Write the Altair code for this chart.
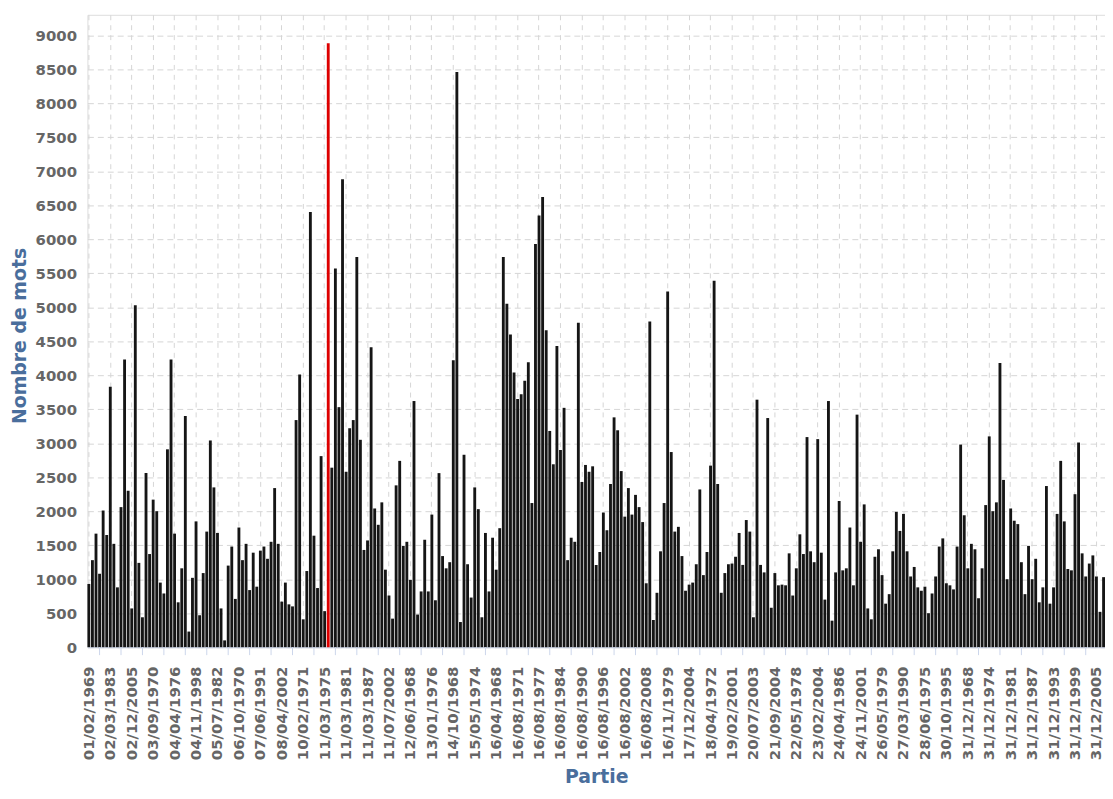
import altair as alt
import pandas as pd

# Nombre de mots par partie (lecture approximative du graphique)
valeurs = [
    930, 1280, 1670, 1080, 2010, 1650, 3830, 1520, 880, 2060,
    4230, 2300, 570, 5030, 1240, 440, 2560, 1370, 2170, 2000,
    950, 790, 2910, 4230, 1670, 660, 1160, 3400, 230, 1020,
    1850, 470, 1090, 1700, 3040, 2350, 1680, 570, 100, 1200,
    1480, 710, 1760, 1280, 1520, 840, 1390, 890, 1420, 1480,
    1300, 1550, 2340, 1520, 670, 950, 630, 600, 3340, 4010,
    410, 1120, 6400, 1640, 870, 2810, 530, 8880, 2640, 5570,
    3530, 6880, 2580, 3220, 3340, 5740, 3050, 1430, 1570, 4410,
    2040, 1800, 2130, 1140, 760, 420, 2380, 2740, 1490, 1550,
    990, 3620, 480, 820, 1580, 820, 1950, 690, 2560, 1340,
    1160, 1250, 4220, 8460, 370, 2830, 1220, 730, 2350, 2030,
    440, 1680, 820, 1610, 1140, 1750, 5740, 5050, 4600, 4040,
    3650, 3720, 3920, 4190, 2120, 5930, 6350, 6620, 4660, 3180,
    2690, 4430, 2900, 3520, 1280, 1610, 1550, 4770, 2430, 2680,
    2580, 2660, 1210, 1400, 1980, 1720, 2400, 3380, 3190, 2590,
    1920, 2340, 1950, 2240, 2060, 1840, 940, 4790, 400, 800,
    1410, 2120, 5230, 2870, 1700, 1770, 1340, 830, 920, 950,
    1220, 2320, 1060, 1400, 2670, 5390, 2400, 800, 1090, 1220,
    1230, 1330, 1680, 1210, 1870, 1700, 440, 3640, 1210, 1100,
    3370, 580, 1090, 910, 920, 910, 1380, 760, 1160, 1660,
    1370, 3090, 1410, 1250, 3060, 1390, 700, 3620, 390, 1100,
    2150, 1130, 1160, 1760, 910, 3420, 1550, 2100, 570, 410,
    1330, 1440, 1060, 640, 780, 1410, 1990, 1710, 1960, 1410,
    1040, 1180, 880, 830, 890, 500, 790, 1040, 1480, 1600,
    940, 910, 850, 1480, 2980, 1940, 1160, 1520, 1440, 720,
    1160, 2090, 3100, 2000, 2130, 4180, 2460, 1000, 2040, 1860,
    1810, 1250, 780, 1490, 1000, 1300, 660, 880, 2370, 640,
    880, 1960, 2740, 1850, 1150, 1130, 2250, 3010, 1380, 1040,
    1230, 1350, 1040, 520, 1030,
]

# Étiquettes de l'axe des x (une partie sur six)
etiquettes = [
    "01/02/1969", "02/03/1983", "02/12/2005", "03/09/1970", "04/04/1976",
    "04/11/1998", "05/07/1982", "06/10/1970", "07/06/1991", "08/04/2002",
    "10/02/1971", "11/03/1975", "11/03/1981", "11/03/1987", "11/07/2002",
    "12/06/1968", "13/01/1976", "14/10/1968", "15/05/1974", "16/04/1968",
    "16/08/1971", "16/08/1977", "16/08/1984", "16/08/1990", "16/08/1996",
    "16/08/2002", "16/08/2008", "16/11/1979", "17/12/2004", "18/04/1972",
    "19/02/2001", "20/07/2003", "21/09/2004", "22/05/1978", "23/02/2004",
    "24/04/1986", "24/11/2001", "26/05/1979", "27/03/1990", "28/06/1975",
    "30/10/1995", "31/12/1968", "31/12/1974", "31/12/1981", "31/12/1987",
    "31/12/1993", "31/12/1999", "31/12/2005",
]
pas_etiquette = 6
indice_rouge = 67
graduations_y = list(range(0, 9001, 500))

LARGEUR = 1025
HAUTEUR = 637
LONG_TICK = 8

df = pd.DataFrame({"idx": list(range(len(valeurs))), "mots": valeurs})
positions_etiquettes = [i * pas_etiquette for i in range(len(etiquettes))]
ticks_df = pd.DataFrame({"idx": [p + pas_etiquette // 2 for p in positions_etiquettes[:-1]]})

liste_js = "[" + ",".join("'" + e + "'" for e in etiquettes) + "]"

police = "DejaVu Sans"
bleu = "#4a6e9c"

x_enc = alt.X(
    "idx:O",
    scale=alt.Scale(paddingInner=0.2, paddingOuter=0, domain=list(range(len(valeurs)))),
    axis=alt.Axis(
        values=positions_etiquettes,
        labelExpr=f"{liste_js}[datum.value / {pas_etiquette}]",
        labelAngle=270,
        labelAlign="right",
        labelBaseline="middle",
        labelPadding=19,
        labelFont=police,
        labelFontSize=15,
        labelFontWeight="bold",
        labelColor="#666666",
        ticks=False,
        tickSize=0,
        domain=True,
        domainColor="#ccd6eb",
        grid=True,
        gridColor="#d6d6d6",
        gridDash=[5, 5],
        gridWidth=1,
        title="Partie",
        titleFont=police,
        titleFontSize=19,
        titleFontWeight="bold",
        titleColor=bleu,
        titleY=136,
        titleBaseline="alphabetic",
        labelOverlap=False,
    ),
)

barres = alt.Chart(df).mark_bar(strokeWidth=0).encode(
    x=x_enc,
    y=alt.Y(
        "mots:Q",
        scale=alt.Scale(domain=[0, 9300], nice=False),
        axis=alt.Axis(
            values=graduations_y,
            format="d",
            labelPadding=11,
            labelFont=police,
            labelFontSize=15,
            labelFontWeight="bold",
            labelColor="#666666",
            ticks=False,
            tickSize=0,
            domain=False,
            grid=True,
            gridColor="#d6d6d6",
            gridDash=[6, 4],
            gridWidth=1,
            title="Nombre de mots",
            titleFont=police,
            titleFontSize=19,
            titleFontWeight="bold",
            titleColor=bleu,
            titleX=-68,
            titleY=323,
            titleBaseline="middle",
            titleAngle=270,
        ),
    ),
    color=alt.condition(
        alt.datum.idx == indice_rouge, alt.value("#dd0000"), alt.value("#151515")
    ),
)

ticks = alt.Chart(ticks_df).mark_rule(color="#ccd6eb", strokeWidth=1).encode(
    x=alt.X("idx:O"),
    y=alt.value(HAUTEUR),
    y2=alt.value(HAUTEUR + LONG_TICK),
)

chart = (
    alt.layer(barres, ticks)
    .properties(
        width=LARGEUR,
        height=HAUTEUR,
        padding={"left": 80, "top": 4, "right": 0, "bottom": 142},
        autosize=alt.AutoSizeParams(type="none"),
    )
    .configure_view(stroke=None)
    .configure(background="white")
)

chart.save("out.html", embed_options={"renderer": "svg", "actions": False})
